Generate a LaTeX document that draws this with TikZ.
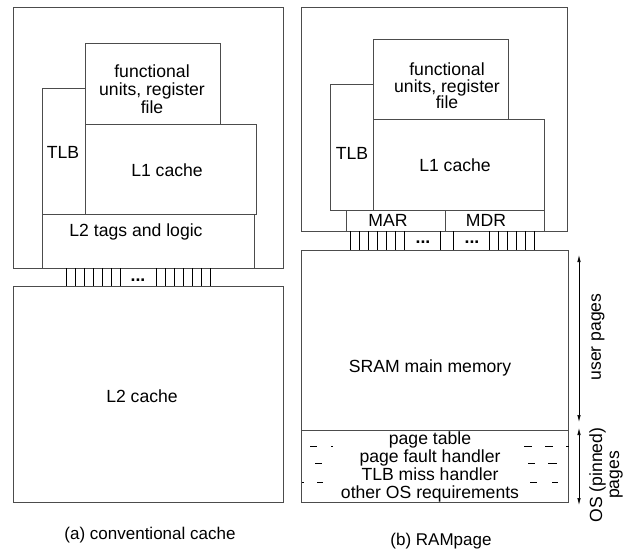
\documentclass[tikz,border=0pt]{standalone}
\usepackage{fontspec}
\setmainfont{Liberation Sans}
\usetikzlibrary{arrows.meta}
\begin{document}
\begin{tikzpicture}[x=1pt,y=-1pt,box/.style={draw=black!70,line width=0.9pt},
        pin/.style={draw=black,line width=0.6pt},
        lbl/.style={font=\fontsize{17.6}{18}\selectfont,inner sep=0pt,align=center},
        subcap/.style={font=\fontsize{17}{18}\selectfont,inner sep=0pt}]
    \tikzstyle{span}=[draw=black,line width=0.7pt,{Latex[length=7pt,width=3.5pt]}-{Latex[length=7pt,width=3.5pt]}]
    \useasboundingbox (0,0) rectangle (630,550);

    % (a) conventional cache
    \draw[box] (13,7) rectangle (283,268);
    \draw[box] (85,43) rectangle (220,124);
    \draw[box] (42,88) rectangle (85,214);
    \draw[box] (85,124) rectangle (256,214);
    \draw[box] (42,214) rectangle (254,268);
    \draw[box] (13,286) rectangle (283,502);
    \foreach \x in {66,75,...,120,156,165,...,210}
        \draw[pin] (\x,268) -- (\x,286);
    \node[lbl] (fuA) at (152,89) {functional\\units, register\\file};
    \node[lbl] (tlbA) at (63,152) {TLB};
    \node[lbl] (lOneA) at (167,170) {L1 cache};
    \node[lbl] (tagsA) at (136,232) {L2 tags and logic};
    \node[lbl] (dotsA) at (138,280) {\textbf{...}};
    \node[lbl] (lTwo) at (142,396) {L2 cache};
    \node[subcap] (capA) at (150,535) {(a) conventional cache};

    % (b) RAMpage
    \draw[box] (301,7) rectangle (567,231);
    \draw[box] (373,39) rectangle (508,119);
    \draw[box] (330,84) rectangle (373,210);
    \draw[box] (373,119) rectangle (544,210);
    \draw[box] (346,210) rectangle (445,231);
    \draw[box] (445,210) rectangle (544,231);
    \draw[box] (301,250) rectangle (568,502);
    \draw[box] (301,430) -- (568,430);
    \foreach \x in {350.7,359.3,368.7,377.3,386.3,395.7,404.3,440.7,453.3,489.3,498.7,507.3,516.7,525.3,534.3}
        \draw[pin] (\x,231) -- (\x,250);
    \foreach \y/\xa/\xb in {446/310/317,446/331/333,446/524/532,446/545/553,446/566/569,
            463/315/322,463/528/535,463/548/557,
            482/302/304,482/317/323,482/530/537,482/552/558}
        \draw[pin] (\xa,\y) -- (\xb,\y);
    \node[lbl,font=\fontsize{17.6}{16.5}\selectfont] (fuB) at (447,86) {functional\\units, register\\file};
    \node[lbl] (tlbB) at (352,153) {TLB};
    \node[lbl] (lOneB) at (455,165) {L1 cache};
    \node[lbl] (mar) at (388,220) {MAR};
    \node[lbl] (mdr) at (486,220) {MDR};
    \node[lbl] (dotsB) at (423,242) {\textbf{...}};
    \node[lbl] (dotsC) at (472,242) {\textbf{...}};
    \node[lbl] (sram) at (430,368) {SRAM main memory};
    \node[lbl] (osReq) at (430,467) {page table\\page fault handler\\TLB miss handler\\other OS requirements};
    \node[subcap] (capB) at (441,541) {(b) RAMpage};

    \coordinate (userTop) at (579,255);
    \coordinate (userBot) at (579,422);
    \coordinate (osTop) at (579,428);
    \coordinate (osBot) at (579,505);
    \draw[span] (userTop) -- (userBot);
    \draw[span] (osTop) -- (osBot);
    \node[lbl,rotate=90] (userLbl) at (598,337) {user pages};
    \node[lbl,rotate=90,font=\fontsize{17.6}{17}\selectfont] (osLbl) at (606,475) {OS (pinned)\\pages};

\end{tikzpicture}
\end{document}
